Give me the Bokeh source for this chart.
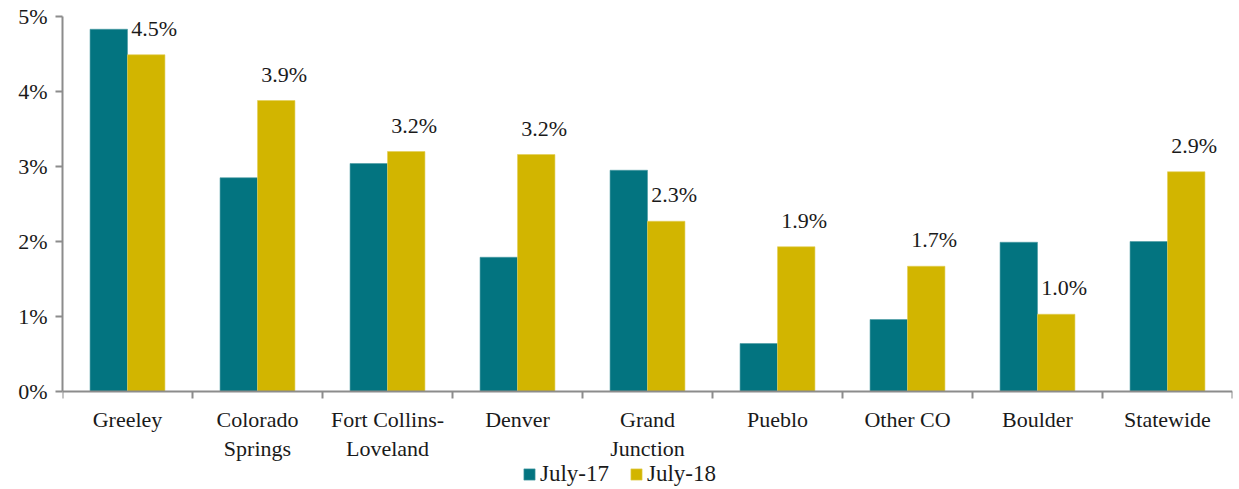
from bokeh.plotting import figure
from bokeh.models import (ColumnDataSource, FixedTicker, LinearAxis, Legend, LegendItem,
                          NumeralTickFormatter, Range1d, Span)
from bokeh.core.properties import value
from bokeh.embed import file_html
from bokeh.resources import INLINE

categories = ["Greeley", "Colorado\nSprings", "Fort Collins-\nLoveland", "Denver", "Grand\nJunction",
              "Pueblo", "Other CO", "Boulder", "Statewide"]
july17 = [4.83, 2.85, 3.04, 1.79, 2.95, 0.64, 0.96, 1.99, 2.00]
july18 = [4.49, 3.88, 3.20, 3.16, 2.27, 1.93, 1.67, 1.03, 2.93]
series_names = ["July-17", "July-18"]
y_ticks = [0, 1, 2, 3, 4, 5]

TEAL = "#037480"
GOLD = "#D2B500"
FONT = "Liberation Serif"
AXIS = "#8c8c8c"

PX_PER_UNIT = 7500.0   # 75 px per 1 %
BELOW_PX = 97          # room under the 0 % line for category labels and legend

n = len(categories)
half = 0.144
src = ColumnDataSource(dict(
    x17=[i + 0.5 - half for i in range(n)],
    x18=[i + 0.5 + half for i in range(n)],
    xc=[i + 0.5 for i in range(n)],
    zero=[0.0] * n,
    cat=categories,
    v17=[v / 100 for v in july17],
    v18=[v / 100 for v in july18],
    lab=[f"{v:.1f}%" for v in july18],
))
bsrc = ColumnDataSource(dict(
    xb=list(range(n + 1)),
    y0=[0.0] * (n + 1),
    y1=[-7 / PX_PER_UNIT] * (n + 1),
))

p = figure(frame_width=1170, frame_height=375 + BELOW_PX, output_backend="svg", toolbar_location=None,
           x_range=Range1d(0, n), y_range=Range1d(-BELOW_PX / PX_PER_UNIT, 0.05),
           min_border_left=62, min_border_right=4, min_border_top=16, min_border_bottom=0,
           x_axis_location=None, y_axis_location=None)
p.outline_line_color = None
p.xgrid.visible = False
p.ygrid.visible = False

r17 = p.vbar(x="x17", top="v17", width=2 * half, source=src, fill_color=TEAL,
             line_color="#4a9aa3", line_width=0.6)
r18 = p.vbar(x="x18", top="v18", width=2 * half, source=src, fill_color=GOLD,
             line_color="#e3cf55", line_width=0.6)
p.text(x="x18", y="v18", text="lab", source=src, text_font=value(FONT),
       text_font_size="22px", text_color="#1a1a1a", text_align="center",
       text_baseline="bottom", y_offset=-14, x_offset=8)

# x axis line at 0 % with ticks at category boundaries
p.add_layout(Span(location=0, dimension="width", line_color=AXIS, line_width=2))
p.segment(x0="xb", y0="y0", x1="xb", y1="y1", source=bsrc, line_color=AXIS, line_width=2)

# category labels
p.text(x="xc", y="zero", text="cat", source=src, text_font=value(FONT),
       text_font_size="22px", text_color="#1a1a1a", text_align="center",
       text_baseline="top", y_offset=15, text_line_height=1.18)

# y axis
yax = LinearAxis(ticker=FixedTicker(ticks=[t / 100 for t in y_ticks]),
                 formatter=NumeralTickFormatter(format="0%"), bounds=(0, 0.05))
yax.axis_line_color = AXIS
yax.axis_line_width = 2
yax.major_tick_line_color = AXIS
yax.major_tick_line_width = 2
yax.major_tick_out = 7
yax.major_tick_in = 0
yax.minor_tick_line_color = None
yax.major_label_text_font = FONT
yax.major_label_text_font_size = "22px"
yax.major_label_text_color = "#1a1a1a"
yax.major_label_standoff = 8
p.add_layout(yax, "left")

legend = Legend(items=[LegendItem(label=series_names[0], renderers=[r17]),
                       LegendItem(label=series_names[1], renderers=[r18])],
                orientation="horizontal", location=(460, 1),
                label_text_font=FONT, label_text_font_size="23px", label_text_color="#1a1a1a",
                glyph_width=14, glyph_height=14, spacing=20, padding=0, margin=0,
                label_standoff=4, border_line_color=None, background_fill_alpha=0)
p.add_layout(legend, "center")

open("out.html", "w").write(file_html(p, INLINE))
